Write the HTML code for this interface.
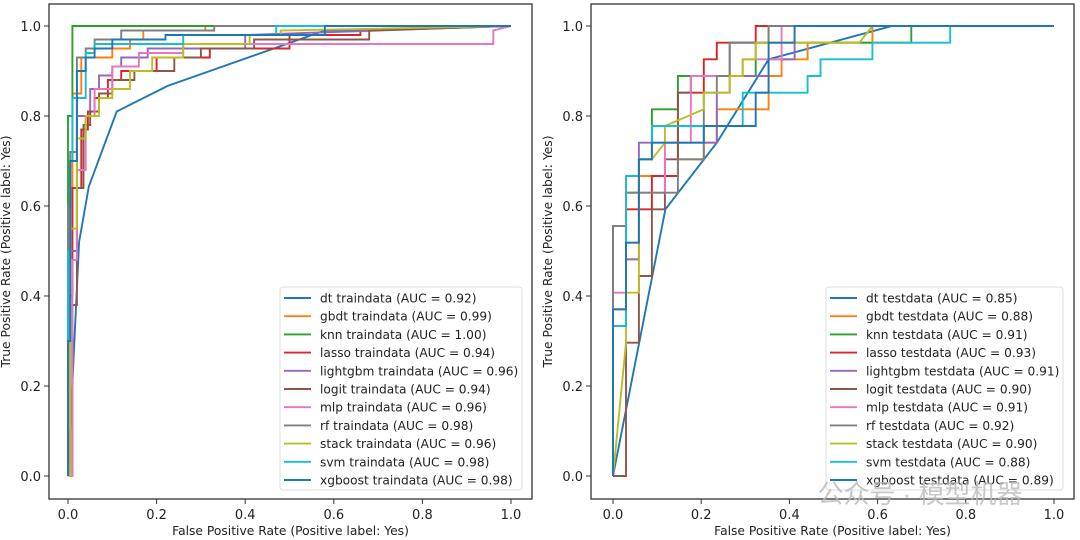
<!DOCTYPE html>
<html><head><meta charset="utf-8"><style>
html,body{margin:0;padding:0;background:#fff;}
svg{display:block;font-family:"DejaVu Sans","Liberation Sans",sans-serif;}
</style></head><body>
<svg id="fig" width="1080" height="540" viewBox="0 0 1080 540" xmlns="http://www.w3.org/2000/svg">
<rect width="1080" height="540" fill="#fff"/>
<g id="left"></g>
<g id="right"></g>
<text x="920" y="503" font-size="26" fill="#bbb" opacity="0.8" font-family="'Liberation Sans','Noto Sans CJK SC',sans-serif" text-anchor="middle">公众号 · 模型机器</text>
</svg>
<script>
const names = ["dt","gbdt","knn","lasso","lightgbm","logit","mlp","rf","stack","svm","xgboost"];
const colors = ["#1f77b4","#ff7f0e","#2ca02c","#d62728","#9467bd","#8c564b","#e377c2","#7f7f7f","#bcbd22","#17becf","#1f77b4"];
const trainAuc = ["0.92","0.99","1.00","0.94","0.96","0.94","0.96","0.98","0.96","0.98","0.98"];
const testAuc = ["0.85","0.88","0.91","0.93","0.91","0.90","0.91","0.92","0.90","0.88","0.89"];
const ticks = [0,0.2,0.4,0.6,0.8,1.0];
const tickLabels = ["0.0","0.2","0.4","0.6","0.8","1.0"];

// train curves (fpr, tpr)
const trFpr = [
 [0,0.025,0.047,0.11,0.225,0.58,1],
 [0,0,0.01,0.01,0.03,0.03,0.1,0.1,0.14,0.14,0.17,0.17,0.31,0.31,1],
 [0,0,0.01,0.01,1],
 [0,0.005,0.005,0.01,0.01,0.03,0.03,0.045,0.045,0.06,0.06,0.09,0.09,0.12,0.12,0.2,0.2,0.32,0.32,0.5,0.5,0.66,0.66,1],
 [0,0.005,0.005,0.02,0.02,0.05,0.05,0.07,0.07,0.1,0.1,0.12,0.12,0.18,0.18,0.4,0.4,1],
 [0,0.01,0.01,0.02,0.02,0.035,0.035,0.05,0.05,0.07,0.07,0.1,0.1,0.15,0.15,0.24,0.24,0.3,0.3,0.42,0.42,0.68,0.68,1],
 [0,0.01,0.01,0.02,0.02,0.04,0.04,0.06,0.06,0.1,0.1,0.16,0.16,0.26,0.26,0.96,0.96,1],
 [0,0,0.005,0.005,0.02,0.02,0.04,0.04,0.06,0.06,0.12,0.12,0.33,0.33,1],
 [0,0.005,0.005,0.02,0.02,0.04,0.04,0.07,0.07,0.1,0.1,0.14,0.14,0.19,0.19,0.26,0.26,0.41,0.41,0.48,0.48,1],
 [0,0,0.005,0.005,0.01,0.01,0.04,0.04,0.06,0.06,0.26,0.26,0.47,0.47,1],
 [0,0,0.005,0.005,0.02,0.02,0.04,0.04,0.06,0.06,0.1,0.1,0.22,0.22,0.58,0.58,1]
];
const trTpr = [
 [0,0.52,0.643,0.81,0.867,0.99,1],
 [0,0.55,0.55,0.85,0.85,0.93,0.93,0.95,0.95,0.97,0.97,0.99,0.99,1,1],
 [0,0.8,0.8,1,1],
 [0,0,0.4,0.4,0.64,0.64,0.77,0.77,0.81,0.81,0.84,0.84,0.88,0.88,0.9,0.9,0.93,0.93,0.95,0.95,0.98,0.98,0.99,1],
 [0,0,0.5,0.5,0.8,0.8,0.86,0.86,0.89,0.89,0.91,0.91,0.93,0.93,0.95,0.95,0.98,1],
 [0,0,0.38,0.38,0.64,0.64,0.78,0.78,0.81,0.81,0.85,0.85,0.88,0.88,0.9,0.9,0.93,0.93,0.95,0.95,0.97,0.97,0.99,1],
 [0,0,0.48,0.48,0.68,0.68,0.8,0.8,0.86,0.86,0.91,0.91,0.94,0.94,0.96,0.96,0.99,1],
 [0,0.6,0.6,0.72,0.72,0.93,0.93,0.95,0.95,0.97,0.97,0.99,0.99,1,1],
 [0,0,0.55,0.55,0.75,0.75,0.8,0.8,0.84,0.84,0.86,0.86,0.9,0.9,0.93,0.93,0.96,0.96,0.98,0.98,0.99,1],
 [0,0.5,0.5,0.7,0.7,0.84,0.84,0.94,0.94,0.96,0.96,0.98,0.98,1,1],
 [0,0.3,0.3,0.7,0.7,0.9,0.9,0.93,0.93,0.95,0.95,0.97,0.97,0.98,0.98,1,1]
];
// test curves in counts: fpr/34, tpr/27
const teCol = [
 [0,4.04,8,12,21.5,34],
 [0,0,1,1,2,2,5,5,7,7,8,8,12,12,13,13,15,15,20,20,34],
 [0,0,1,1,2,2,3,3,5,5,11,11,23,23,34],
 [0,0,1,1,3,3,5,5,7,7,8,8,11,11,34],
 [0,0,1,1,2,2,8,8,9,9,12,12,14,14,34],
 [0,1,1,2,2,3,3,4,4,5,5,6,6,9,9,12,12,34],
 [0,0,1,1,2,2,4,4,6,6,10,10,13,13,34],
 [0,0,1,1,5,5,7,7,8,8,9,9,12,12,15,15,34],
 [0,1,1,2,2,3,4,4,7,7,9,9,10,10,11,11,19,20,34],
 [0,0,1,1,2,2,3,3,10,10,15,15,16,16,20,20,26,26,34],
 [0,0,1,1,2,2,3,3,7,7,11,11,12,12,14,14,34]
];
const teRow = [
 [0,16,20,25,27,27],
 [0,9,9,13,13,18,18,19,19,20,20,22,22,24,24,25,25,26,26,27,27],
 [0,15,15,17,17,19,19,22,22,24,24,26,26,27,27],
 [0,10,10,16,16,18,18,23,23,25,25,26,26,27,27],
 [0,9,9,13,13,20,20,23,23,24,24,25,25,27,27],
 [0,0,8,8,12,12,16,16,19,19,23,23,24,24,26,26,27,27],
 [0,11,11,14,14,17,17,20,20,24,24,25,25,27,27],
 [0,15,15,17,17,19,19,23,23,24,24,26,26,27,27,27,27],
 [0,8,11,11,19,19,20,21,22,23,23,24,24,25,25,26,26,27,27],
 [0,9,9,18,18,19,19,21,21,23,23,24,24,25,25,26,26,27,27],
 [0,10,10,14,14,19,19,20,20,21,21,23,23,26,26,27,27]
];
const NEG = 34, POS = 27;

const NS = "http://www.w3.org/2000/svg";
function mk(tag, attrs, parent){const e=document.createElementNS(NS,tag);for(const k in attrs)e.setAttribute(k,attrs[k]);parent.appendChild(e);return e;}

function panel(g, box, x0, x1, kind){
  const sx = v => x0 + v*(x1-x0);
  const sy = v => 476 - v*450;
  const bx = mk("rect",{x:box[0],y:box[1],width:box[2]-box[0],height:box[3]-box[1],fill:"none",stroke:"#333","stroke-width":1.3},g);
  
  
  ticks.forEach((t,i)=>{
    const xt = mk("line",{x1:sx(t),x2:sx(t),y1:box[3],y2:box[3]+5,stroke:"#333"},g);
    
    
    const xl = mk("text",{x:sx(t),y:box[3]+20,"font-size":13,"text-anchor":"middle",fill:"#222"},g);
    xl.textContent = tickLabels[i];
    
    
    const yt = mk("line",{x1:box[0]-5,x2:box[0],y1:sy(t),y2:sy(t),stroke:"#333"},g);
    
    
    const yl = mk("text",{x:box[0]-8,y:sy(t)+5,"font-size":13,"text-anchor":"end",fill:"#222"},g);
    yl.textContent = tickLabels[i];
    
    
  });
  const xa = mk("text",{x:(box[0]+box[2])/2,y:box[3]+36,"font-size":12.3,"text-anchor":"middle",fill:"#222"},g);
  xa.textContent = "False Positive Rate (Positive label: Yes)";
  
  
  const yx = box[0]-39, yy=(box[1]+box[3])/2;
  const ya = mk("text",{x:yx,y:yy,"font-size":12.3,"text-anchor":"middle",fill:"#222",transform:`rotate(-90 ${yx} ${yy})`},g);
  ya.textContent = "True Positive Rate (Positive label: Yes)";
  
  

  names.forEach((n,i)=>{
    let pts;
    if(kind==="train") pts = trFpr[i].map((f,j)=>sx(f).toFixed(1)+","+sy(trTpr[i][j]).toFixed(1));
    else pts = teCol[i].map((c,j)=>sx(c/NEG).toFixed(1)+","+sy(teRow[i][j]/POS).toFixed(1));
    const pl = mk("polyline",{points:pts.join(" "),fill:"none",stroke:colors[i],"stroke-width":1.9,"stroke-linejoin":"miter"},g);
    
    
  });

  const lx = kind==="train"?280:826, lw = kind==="train"?242:237;
  const lg = mk("g",{},g);
  
  
  mk("rect",{x:lx,y:287,width:lw,height:203,rx:3,fill:"#fff","fill-opacity":0.85,stroke:"#ddd"},lg);
  names.forEach((n,i)=>{
    const y = 298 + i*18.2;
    const ln = mk("line",{x1:lx+4,x2:lx+31,y1:y,y2:y,stroke:colors[i],"stroke-width":1.9},lg);
    
    
    const t = mk("text",{x:lx+40,y:y+4.5,"font-size":12.2,fill:"#222"},lg);
    t.textContent = n+(kind==="train"?" traindata":" testdata")+" (AUC = "+(kind==="train"?trainAuc[i]:testAuc[i])+")";
    
    
  });
}
panel(document.getElementById("left"), [49,4,532,499], 68, 511, "train");
panel(document.getElementById("right"), [591,4,1074,499], 613, 1054, "test");
</script>
</body></html>
